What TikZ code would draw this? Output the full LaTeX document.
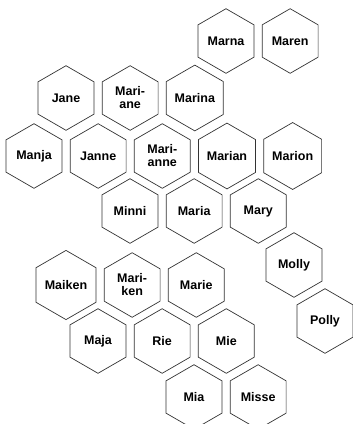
\documentclass[tikz,border=0pt]{standalone}
\usepackage{fontspec}
\setmainfont{Liberation Sans}
\usetikzlibrary{positioning,shapes.geometric}
\tikzset{
  every picture/.style={line width=0.7pt},
  hexbox/.style={
    draw=black!80,
    regular polygon,
    regular polygon sides=6,
    regular polygon rotate=30,
    minimum size=64.6pt,
    inner sep=0pt,
    align=center,
    font=\fontsize{12.5}{13}\selectfont\bfseries
  }
}
\begin{document}
\begin{tikzpicture}[x=1pt,y=-1pt,node distance=7.5pt]
  \useasboundingbox (0,0) rectangle (353,424);

  \node[hexbox] (marna) at (226,41) {Marna};
  \node[hexbox, right=of marna] (maren) {Maren};

  \node[hexbox] (jane) at (66,98) {Jane};
  \node[hexbox, right=of jane] (mariane) {Mari-\\ane};
  \node[hexbox, right=of mariane] (marina) {Marina};

  \node[hexbox] (manja) at (34,156) {Manja};
  \node[hexbox, right=of manja] (janne) {Janne};
  \node[hexbox, right=of janne] (marianne) {Mari-\\anne};
  \node[hexbox, right=of marianne] (marian) {Marian};
  \node[hexbox, right=of marian] (marion) {Marion};

  \node[hexbox] (minni) at (130,211) {Minni};
  \node[hexbox, right=of minni] (maria) {Maria};
  \node[hexbox, right=of maria] (mary) {Mary};

  \node[hexbox] (molly) at (294,265) {Molly};
  \node[hexbox] (polly) at (325,321) {Polly};

  \node[hexbox] (maiken) at (66,285) {Maiken};
  \node[hexbox, right=of maiken] (mariken) {Mari-\\ken};
  \node[hexbox, right=of mariken] (marie) {Marie};

  \node[hexbox] (maja) at (98,341) {Maja};
  \node[hexbox, right=of maja] (rie) {Rie};
  \node[hexbox, right=of rie] (mie) {Mie};

  \node[hexbox] (mia) at (194,397) {Mia};
  \node[hexbox, right=of mia] (misse) {Misse};
\end{tikzpicture}
\end{document}
